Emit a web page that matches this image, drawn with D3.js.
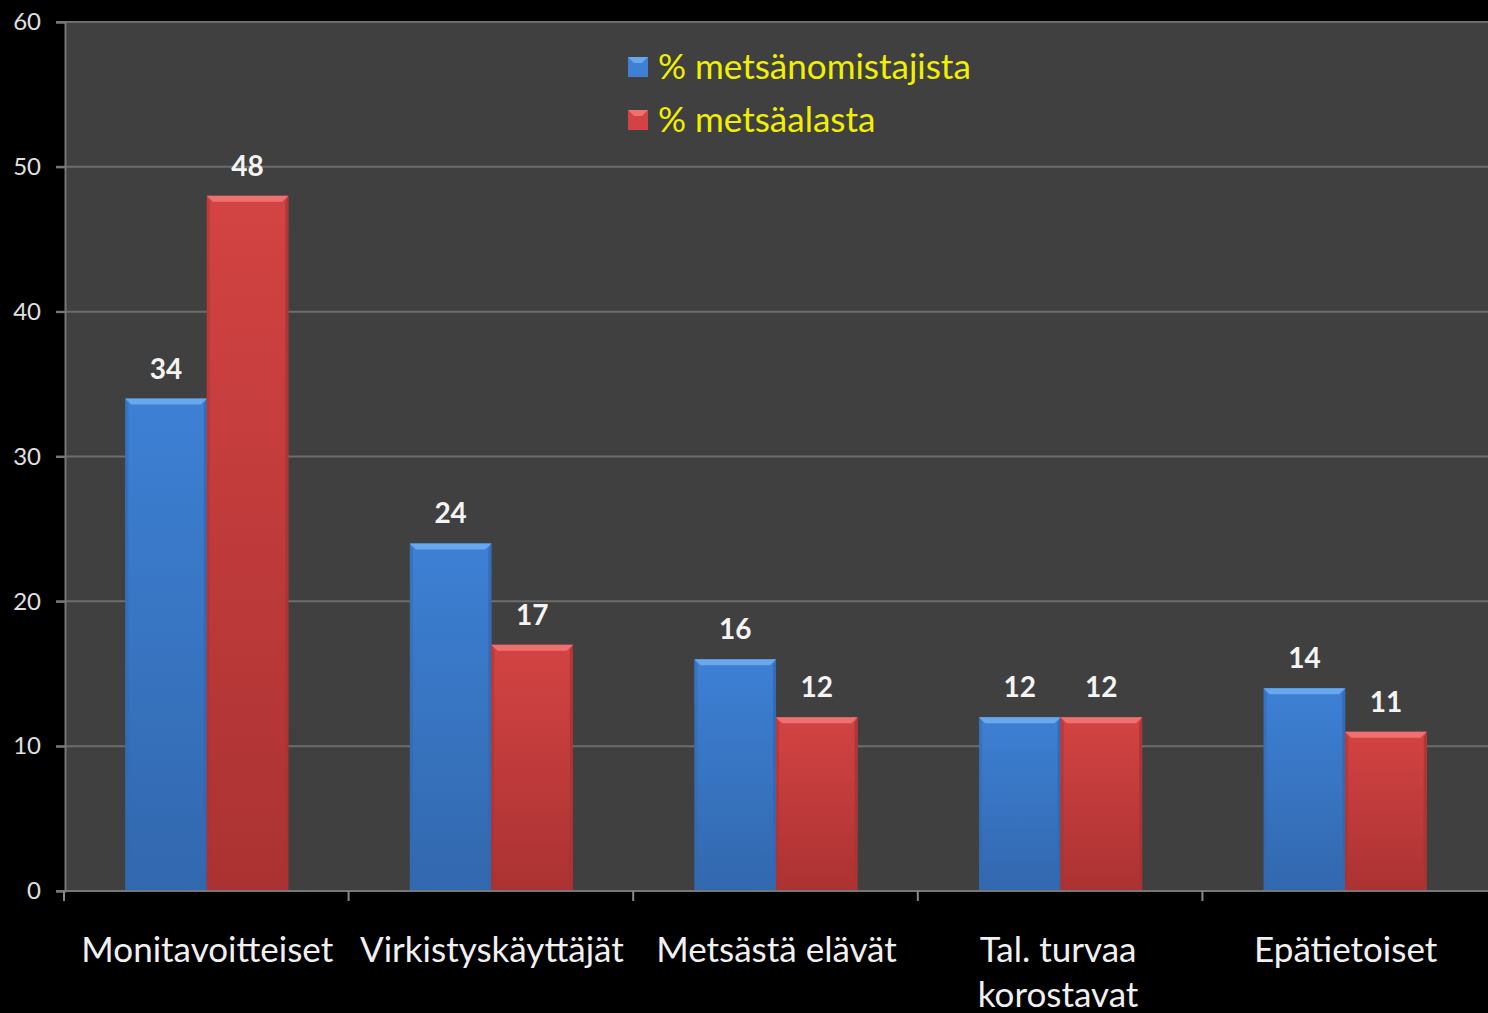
<!DOCTYPE html>
<html><head><meta charset="utf-8">
<script src="https://cdn.jsdelivr.net/npm/d3@7/dist/d3.min.js"></script>
<style>html,body{margin:0;padding:0;background:#000;}svg{display:block;}</style>
</head><body>
<script>
const categories = ["Monitavoitteiset", "Virkistyskäyttäjät", "Metsästä elävät", "Tal. turvaa\nkorostavat", "Epätietoiset"];
const seriesNames = ["% metsänomistajista", "% metsäalasta"];
const ownersPct = [34, 24, 16, 12, 14];
const areaPct = [48, 17, 12, 12, 11];
const yTicks = [0, 10, 20, 30, 40, 50, 60];

const W = 1488, H = 1013;
const m = {left: 65, right: 0, top: 22, bottom: 122};
const FONT = "Lato, 'Open Sans', sans-serif";
const svg = d3.select("body").append("svg").attr("width", W).attr("height", H);
svg.append("rect").attr("width", W).attr("height", H).attr("fill", "#000");

const x = d3.scaleBand().domain(categories).range([m.left, W - m.right]).paddingInner(0).paddingOuter(0);
const y = d3.scaleLinear().domain([0, 60]).range([H - m.bottom, m.top]);
const groupFrac = 0.573;
const x1 = d3.scaleBand().domain([0, 1]).range([0, x.bandwidth() * groupFrac]);
const groupOffset = (x.bandwidth() - x.bandwidth() * groupFrac) / 2 - 0.5;

const defs = svg.append("defs");
const colors = [
  {base: "#3d80d4", light: "#6aa8ee", dark: "#3268ae", id: "b"},
  {base: "#d34343", light: "#ee7070", dark: "#ab3232", id: "r"}
];
colors.forEach(c => {
  const g = defs.append("linearGradient").attr("id", "g" + c.id).attr("x1", 0).attr("y1", 0).attr("x2", 0).attr("y2", 1);
  g.append("stop").attr("offset", "0").attr("stop-color", c.base);
  g.append("stop").attr("offset", "1").attr("stop-color", c.dark);
});

// plot background
svg.append("rect").attr("x", m.left).attr("y", m.top).attr("width", W - m.left - m.right).attr("height", y(0) - m.top).attr("fill", "#404040");

// gridlines
svg.append("g").selectAll("line").data(yTicks.filter(d => d > 0)).join("line")
  .attr("x1", m.left - 9).attr("x2", W).attr("y1", d => y(d)).attr("y2", d => y(d))
  .attr("stroke", "#6c6c6c").attr("stroke-width", 2);

// y axis
const yAxis = d3.axisLeft(y).tickValues(yTicks).tickSize(9).tickPadding(15);
const ya = svg.append("g").attr("transform", `translate(${m.left},0)`).call(yAxis);
ya.select(".domain").attr("stroke", "#777").attr("stroke-width", 2);
ya.selectAll(".tick line").attr("stroke", "#777").attr("stroke-width", 2);
ya.selectAll(".tick text").attr("fill", "#e0e0e0").attr("font-family", FONT).attr("font-size", 24);

// bars
const data = [ownersPct, areaPct];
const groups = svg.append("g").selectAll("g").data(categories).join("g")
  .attr("transform", d => `translate(${x(d) + groupOffset},0)`);
groups.each(function(cat, i) {
  const g = d3.select(this);
  [0, 1].forEach(s => {
    const v = data[s][i];
    const c = colors[s];
    const bx = x1(s), bw = x1.bandwidth(), by = y(v), bh = y(0) - y(v);
    g.append("rect").attr("x", bx).attr("y", by).attr("width", bw).attr("height", bh).attr("fill", `url(#g${c.id})`);
    const bev = 6;
    g.append("path").attr("d", `M${bx},${by}L${bx + bw},${by}L${bx + bw - bev},${by + bev}L${bx + bev},${by + bev}Z`).attr("fill", c.light);
    g.append("path").attr("d", `M${bx + bw},${by}L${bx + bw},${by + bh}L${bx + bw - 3},${by + bh}L${bx + bw - 3},${by + bev}Z`).attr("fill", c.dark).attr("opacity", 0.8);
    g.append("path").attr("d", `M${bx},${by}L${bx + 3},${by + bev}L${bx + 3},${by + bh}L${bx},${by + bh}Z`).attr("fill", c.dark).attr("opacity", 0.5);
    g.append("text").attr("x", bx + bw / 2).attr("y", by - 20).attr("text-anchor", "middle")
      .attr("fill", "#f4f4f4").attr("font-family", FONT).attr("font-weight", "bold").attr("font-size", 28)
      .text(v);
  });
});

// x axis
const xa = svg.append("g").attr("transform", `translate(0,${y(0)})`);
xa.append("line").attr("x1", m.left - 9).attr("x2", W).attr("y1", 0).attr("y2", 0).attr("stroke", "#777").attr("stroke-width", 2);
const bounds = categories.map(c => x(c));
xa.selectAll("line.t").data(bounds).join("line").attr("class", "t")
  .attr("x1", d => d - 1).attr("x2", d => d - 1).attr("y1", 0).attr("y2", 10).attr("stroke", "#888").attr("stroke-width", 2);
xa.selectAll("text.c").data(categories).join("text").attr("class", "c")
  .attr("y", 71)
  .attr("text-anchor", "middle").attr("fill", "#f0f0f0")
  .attr("font-family", FONT).attr("font-size", 35)
  .each(function(d) {
    const t = d3.select(this);
    const cx = x(d) + x.bandwidth() / 2 + (d.includes("\n") ? -3 : 0);
    d.split("\n").forEach((line, k) => {
      t.append("tspan").attr("x", cx).attr("dy", k === 0 ? 0 : 45).text(line);
    });
  });

// legend
const lg = svg.append("g").attr("transform", "translate(628,57)");
seriesNames.forEach((n, i) => {
  const c = colors[i];
  const gy = i * 53;
  lg.append("rect").attr("x", 0).attr("y", gy).attr("width", 20).attr("height", 20).attr("fill", c.base);
  lg.append("path").attr("d", `M0,${gy}L20,${gy}L14,${gy + 6}L6,${gy + 6}Z`).attr("fill", c.light);
  lg.append("text").attr("x", 30).attr("y", gy + 22).attr("fill", "#f0f000")
    .attr("font-family", FONT).attr("font-size", 35).text(n);
});
</script>
</body></html>
